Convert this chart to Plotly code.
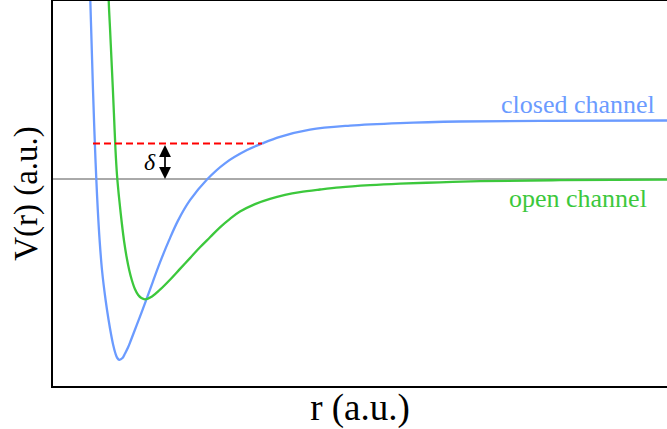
import plotly.graph_objects as go

# Closed channel potential (arbitrary units)
r_closed = [36.9, 37.3, 38.2, 39.1, 40.0, 41.0, 42.1, 43.3, 44.8, 46.6, 49.0, 52.6, 55.6, 58.0,
            60.2, 62.3, 64.3, 66.3, 69.5, 72.0, 75.0, 78.0, 83.7, 88.5, 93.7, 100, 107, 116, 125,
            137, 154, 172, 194, 209, 227, 257, 297, 347, 407, 487, 614]
v_closed = [200, 179, 149, 119, 89, 59, 29, 0, -31, -61, -91, -121, -141, -155,
            -166, -174, -179, -180.8, -179, -174.5, -168.5, -161, -146.1, -133.6, -119.6, -102.3,
            -83.4, -61.4, -41.6, -21.2, -0.5, 15.7, 28.9, 35.5, 42.2, 49.4, 53.4, 55.9, 57.5,
            58.2, 58.5]

# Open channel potential (arbitrary units)
r_open = [55.5, 55.7, 57.1, 58.5, 59.9, 61.2, 62.5, 64.0, 65.3, 66.3, 68.8, 71.2, 73.6, 76.2,
          78.8, 81.9, 85.2, 88.4, 92, 99, 107, 117, 127, 137, 147, 157, 167, 177, 187, 202,
          217, 232, 247, 267, 287, 317, 347, 387, 427, 507, 614]
v_open = [199, 179, 149, 119, 89, 59, 29, 4, -11, -21, -44, -63, -78, -91,
          -101, -110, -116, -119, -120.3, -117.5, -110.7, -100.7, -89.9, -79.1, -68.3, -58.3,
          -48.3, -39.8, -32.6, -25.1, -19.85, -15.95, -13.1, -10.5, -8.3, -6.2, -4.7, -3.3,
          -2.2, -1.2, -0.6]

bound_level = 35.5
bound_r = [40, 209]
delta_r = 112

R_RANGE = [0, 614]
V_RANGE = [-207, 178]

BLUE = "#6b9bff"
GREEN = "#3cc83c"
FONT = "Liberation Serif"

fig = go.Figure()
fig.add_trace(go.Scatter(x=R_RANGE, y=[0, 0], mode="lines",
                         line=dict(color="#555555", width=1), hoverinfo="skip"))
fig.add_trace(go.Scatter(x=r_closed, y=v_closed, mode="lines",
                         line=dict(color=BLUE, width=2.3, shape="spline", smoothing=1.0)))
fig.add_trace(go.Scatter(x=r_open, y=v_open, mode="lines",
                         line=dict(color=GREEN, width=2.3, shape="spline", smoothing=1.0)))
fig.add_trace(go.Scatter(x=bound_r, y=[bound_level, bound_level], mode="lines",
                         line=dict(color="#ff0000", width=2, dash="7px,4px")))

fig.add_annotation(x=delta_r, y=0, ax=delta_r, ay=bound_level, axref="x", ayref="y",
                   xref="x", yref="y", text="", showarrow=True, arrowside="end+start",
                   arrowhead=2, arrowsize=1.4, arrowwidth=1.7, arrowcolor="black")
fig.add_annotation(x=97, y=17, text="<i>δ</i>", showarrow=False,
                   font=dict(family=FONT, size=24, color="black"))
fig.add_annotation(x=525, y=75, text="closed channel", showarrow=False,
                   font=dict(family=FONT, size=26, color=BLUE))
fig.add_annotation(x=525, y=-19, text="open channel", showarrow=False,
                   font=dict(family=FONT, size=26, color=GREEN))

fig.update_layout(
    width=667, height=429,
    margin=dict(l=53, r=0, t=1, b=43),
    plot_bgcolor="white", paper_bgcolor="white",
    showlegend=False,
    font=dict(family=FONT, color="black"),
)
fig.update_xaxes(range=R_RANGE, showgrid=False, zeroline=False, showticklabels=False,
                 ticks="", showline=True, mirror=True, linecolor="black", linewidth=2,
                 automargin=False,
                 title=dict(text="r (a.u.)", font=dict(family=FONT, size=37), standoff=7))
fig.update_yaxes(range=V_RANGE, showgrid=False, zeroline=False, showticklabels=False,
                 ticks="", showline=True, linecolor="black", linewidth=2,
                 automargin=False,
                 title=dict(text="V(r) (a.u.)", font=dict(family=FONT, size=33), standoff=3))

fig.write_html("out.html", config={"displayModeBar": False},
               post_script="document.body.style.margin='0';")
